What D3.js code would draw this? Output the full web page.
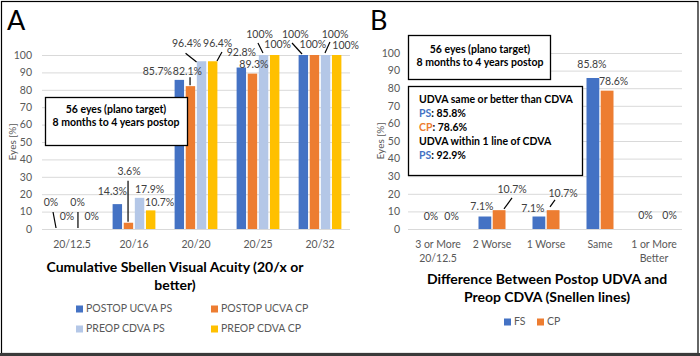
<!DOCTYPE html>
<html><head><meta charset="utf-8">
<script src="https://cdn.jsdelivr.net/npm/d3@7"></script>
<style>
html,body{margin:0;padding:0;background:#fff;}
text{font-family:Lato,"Noto Sans",sans-serif;}
</style></head>
<body>
<svg id="c" width="700" height="356"></svg>
<script>
// ---------- DATA ----------
const categoriesA = ["20/12.5","20/16","20/20","20/25","20/32"];
const seriesA = ["POSTOP UCVA PS","POSTOP UCVA CP","PREOP CDVA PS","PREOP CDVA CP"];
const postopUcvaPS = [0,14.3,85.7,92.8,100];
const postopUcvaCP = [0,3.6,82.1,89.3,100];
const preopCdvaPS  = [0,17.9,96.4,100,100];
const preopCdvaCP  = [0,10.7,96.4,100,100];

const categoriesB = ["3 or More\n20/12.5","2 Worse","1 Worse","Same","1 or More\nBetter"];
const seriesB = ["FS","CP"];
const fsValues = [0,7.1,7.1,85.8,0];
const cpValues = [0,10.7,10.7,78.6,0];

const yTicks = [0,10,20,30,40,50,60,70,80,90,100];
const titleA = ["Cumulative Sbellen Visual Acuity (20/x or","better)"];
const titleB = ["Difference Between Postop UDVA and","Preop CDVA (Snellen lines)"];
const boxText = ["56 eyes (plano target)","8 months to 4 years postop"];

// ---------- STYLE / LAYOUT ----------
const colorsA = ["#4472C4","#ED7D31","#B4C7E7","#FFC000"];
const colorsB = ["#4472C4","#ED7D31"];
const grey = "#595959";
// label offsets [dx,dy] from bar top-centre, optional leader [x1,y1,x2,y2]
const offA = [
  [[-4.3,-26,[-2.3,-17,0.7,-1]],[-5,-12],[-22,-8],[0,-14.5],[-8,-20,[-11.3,-12,-1.3,-1]]],
  [[0.6,-12],[0.6,-50,[-0.4,-42,-0.4,-1]],[-3,-14,[-0.4,-9,-0.4,-1]],[1.5,-8.6],[-1.5,-10]],
  [[0,-26,[0.4,-17,0.4,-1]],[10,-8],[-15,-17,[-16,-8,-5,0.7]],[-4,-20,[-5.6,-12,-0.6,-2]],[9.5,-20,[4.4,-13,-0.6,-2]]],
  [[3,-12],[9,-7],[5,-17,[9.3,-9.3,4.3,-0.3]],[3,-10],[9,-9]]
];
const offB = [
  [[0,-12],[-3,-9.5],[-6,-7.5],[-1,-13],[-1.5,-13]],
  [[6.5,-12],[13,-20,[12.9,-12.2,4.9,-1.2]],[10,-16,[1.9,-10.2,-3.1,-3.2]],[6.5,-8.7],[8.5,-13]]
];

const svg = d3.select("#c");

function panel(o){
  const x0 = d3.scaleBand().domain(o.cats).range(o.xr).paddingInner(o.pi).paddingOuter(o.pi/2);
  const x1 = d3.scaleBand().domain(o.series).range([0,x0.bandwidth()]).paddingInner(o.ip).paddingOuter(0);
  const y = d3.scaleLinear().domain([0,100]).range(o.yr);
  const g = svg.append("g");
  // gridlines
  g.selectAll(".grid").data(yTicks).join("line")
    .attr("x1",o.gx[0]).attr("x2",o.gx[1]).attr("y1",d=>y(d)+0.5).attr("y2",d=>y(d)+0.5)
    .attr("stroke","#d9d9d9").attr("stroke-width",1);
  // y axis
  const ya = d3.axisLeft(y).tickValues(yTicks).tickSize(0).tickPadding(0);
  const yg = g.append("g").attr("transform",`translate(${o.yLabX},0)`).call(ya);
  yg.select(".domain").remove();
  yg.selectAll("text").attr("fill",grey).style("font-size","10.5px").style("font-family","Lato");
  // y title
  g.append("text").attr("transform",`translate(${o.ytX},${(o.yr[0]+o.yr[1])/2}) rotate(-90)`)
    .attr("text-anchor","middle").attr("dominant-baseline","middle")
    .attr("fill",grey).style("font-size","10px").text("Eyes [%]");
  // bars
  o.series.forEach((s,si)=>{
    const vals = o.values[si];
    g.selectAll(null).data(o.cats).join("rect")
      .attr("x",c=>x0(c)+x1(s)).attr("width",x1.bandwidth())
      .attr("y",(c,i)=>y(vals[i])).attr("height",(c,i)=>y(0)-y(vals[i]))
      .attr("fill",o.colors[si]);
  });
  // data labels
  o.series.forEach((s,si)=>{
    const vals = o.values[si];
    o.cats.forEach((c,ci)=>{
      const bx = x0(c)+x1(s)+x1.bandwidth()/2, by = y(vals[ci]);
      const off = o.off[si][ci];
      if(off[2]){
        const L = off[2];
        g.append("line").attr("x1",bx+L[0]).attr("y1",by+L[1]).attr("x2",bx+L[2]).attr("y2",by+L[3])
          .attr("stroke","#000").attr("stroke-width",1.2);
      }
      g.append("text").attr("x",bx+off[0]).attr("y",by+off[1])
        .attr("text-anchor","middle").attr("dominant-baseline","middle")
        .attr("fill","#404040").style("font-size","10.5px").text(vals[ci]+"%");
    });
  });
  // x axis category labels
  const xa = d3.axisBottom(x0).tickSize(0).tickPadding(0);
  const xg = g.append("g").attr("transform",`translate(0,${o.catY})`).call(xa);
  xg.select(".domain").remove();
  xg.selectAll("text").attr("fill",grey).style("font-size","10.5px").style("font-family","Lato")
    .attr("dy",null).attr("dominant-baseline","middle")
    .each(function(d){
      const t = d3.select(this); const parts = d.split("\n");
      t.text(null);
      parts.forEach((p,i)=>t.append("tspan").attr("x",0).attr("y",i*14).text(p));
    });
  // title
  o.title.forEach((t,i)=>g.append("text").attr("x",o.titleX).attr("y",o.titleY+i*18)
    .attr("text-anchor","middle").attr("dominant-baseline","middle")
    .attr("fill","#000").style("font-size","14px").style("font-weight","bold").text(t));
  return {x0,x1,y,g};
}

const A = panel({cats:categoriesA, series:seriesA, values:[postopUcvaPS,postopUcvaCP,preopCdvaPS,preopCdvaCP],
  colors:colorsA, xr:[41,351], pi:0.31, ip:0.15, yr:[229,55], gx:[42,350], yLabX:32, ytX:13,
  off:offA, catY:245, title:titleA, titleX:175, titleY:268});
const B = panel({cats:categoriesB, series:seriesB, values:[fsValues,cpValues],
  colors:colorsB, xr:[411,681], pi:0.5, ip:0.1, yr:[229,53], gx:[408,682], yLabX:400, ytX:381,
  off:offB, catY:245, title:titleB, titleX:547, titleY:280});

// panel letters
svg.append("text").attr("x",7).attr("y",30).style("font-size","27px").attr("fill","#000").text("A");
svg.append("text").attr("x",370).attr("y",30).style("font-size","27px").attr("fill","#000").text("B");

// annotation boxes
function box(x,y,w,h){
  svg.append("rect").attr("x",x).attr("y",y).attr("width",w).attr("height",h)
    .attr("fill","#fff").attr("stroke","#000").attr("stroke-width",1.3);
}
box(45.5,97.5,142,48);
boxText.forEach((t,i)=>svg.append("text").attr("x",116).attr("y",110+i*13)
  .attr("text-anchor","middle").attr("dominant-baseline","middle")
  .style("font-size","10.5px").style("font-weight","bold").attr("fill","#000").text(t));
box(408.5,35.5,142,44);
boxText.forEach((t,i)=>svg.append("text").attr("x",480).attr("y",50+i*13.5)
  .attr("text-anchor","middle").attr("dominant-baseline","middle")
  .style("font-size","10.5px").style("font-weight","bold").attr("fill","#000").text(t));
box(408.5,86.5,174,89);
const box2 = [
  [["UDVA same or better than CDVA","#000"]],
  [["PS","#4472C4"],[": 85.8%","#000"]],
  [["CP","#ED7D31"],[": 78.6%","#000"]],
  [["UDVA within 1 line of CDVA","#000"]],
  [["PS","#4472C4"],[": 92.9%","#000"]]
];
box2.forEach((line,i)=>{
  const t = svg.append("text").attr("x",419).attr("y",100+i*14).attr("dominant-baseline","middle")
    .style("font-size","10.5px").style("font-weight","bold");
  line.forEach(p=>t.append("tspan").attr("fill",p[1]).text(p[0]));
});

// legends
function legend(items,colors,pos){
  items.forEach((s,i)=>{
    const p = pos[i];
    svg.append("rect").attr("x",p[0]).attr("y",p[1]-3.5).attr("width",7).attr("height",7).attr("fill",colors[i]);
    svg.append("text").attr("x",p[0]+10).attr("y",p[1]).attr("dominant-baseline","middle")
      .attr("fill",grey).style("font-size","10.5px").text(s);
  });
}
legend(seriesA,colorsA,[[76,309],[211,309],[76,329],[211,329]]);
legend(seriesB,colorsB,[[504,322],[537,322]]);

// outer frame
svg.append("rect").attr("x",1.5).attr("y",1.5).attr("width",696.5).attr("height",352)
  .attr("fill","none").attr("stroke","#000").attr("stroke-width",1.2);
svg.append("rect").attr("x",0).attr("y",353).attr("width",700).attr("height",3).attr("fill","#3a3a3a");
</script>
</body></html>
